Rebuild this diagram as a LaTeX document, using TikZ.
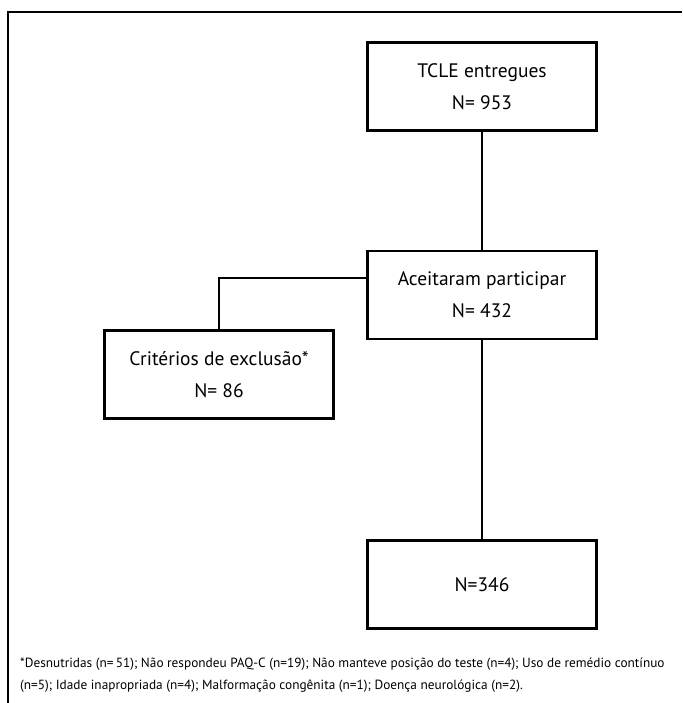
\documentclass[tikz,border=0pt]{standalone}
\usepackage{fontspec}
\setmainfont{PT Sans}
\usepackage{tikz}
\usetikzlibrary{positioning}
\tikzset{
  fcBox/.style={draw=black, line width=2.6pt, fill=white, align=center,
                minimum width=229pt, minimum height=88pt, inner sep=0pt,
                font=\fontsize{19.5}{32}\selectfont},
  fcLine/.style={draw=black, line width=2.4pt},
  fcFrame/.style={draw=black, line width=1.1pt},
  fcNote/.style={align=left, inner sep=0pt, anchor=north west,
                 font=\fontsize{13.3}{21.5}\selectfont}
}

\begin{document}
\begin{tikzpicture}[x=1pt, y=1pt, node distance=118pt and 30pt]
  \useasboundingbox (0,0) rectangle (682,703);
  % open frame (left and top only)
  \draw[fcFrame] (8,0) -- (8,691) -- (682,691);
  \node[fcBox] (tcle) at (482,616.5) {TCLE entregues\\N= 953};
  \node[fcBox, below=of tcle] (aceite) {Aceitaram participar\\N= 432};
  \node[fcBox] (exclusao) at (219,328.5) {Critérios de exclusão*\\N= 86};
  \node[fcBox, below=199pt of aceite] (final) {N=346};
  \draw[fcLine] (tcle.south) -- (aceite.north);
  \draw[fcLine] ([yshift=17pt]aceite.west) -| (exclusao.north);
  \draw[fcLine] (aceite.south) -- (final.north);
  \node[fcNote] (nota) at (20,45) {*Desnutridas (n=\,51); Não respondeu PAQ-C (n=19); Não manteve posição do teste (n=4); Uso de remédio contínuo\\(n=5); Idade inapropriada (n=4); Malformação congênita (n=1); Doença neurológica (n=2).};
\end{tikzpicture}
\end{document}
